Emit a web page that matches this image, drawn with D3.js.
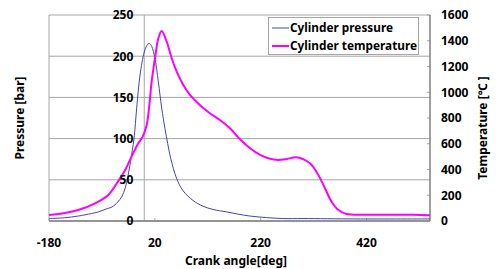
<!DOCTYPE html>
<html>
<head>
<meta charset="utf-8">
<script src="https://cdn.jsdelivr.net/npm/d3@7"></script>
<style>
  body { margin: 0; background: #fff; }
  svg { display: block; font-family: "Noto Sans", "DejaVu Sans", sans-serif; }
</style>
</head>
<body>
<svg id="chart" width="498" height="269"></svg>
<script>
// Crank angle (deg) and cylinder pressure (bar)
const pressureAngle = [-180, -150, -125, -100, -87, -70, -61, -50, -42, -36, -31, -26, -19.4, -14.3, -8, 0, 5, 9.6, 14, 20.3, 26.6, 33, 39.2, 44.3, 50, 61, 73, 92, 111, 130, 156, 200, 262, 300, 400, 540];
const pressureBar   = [3, 4, 6, 9, 11, 15, 17, 23, 30, 40, 54, 72, 100, 137, 177, 205, 213, 215.6, 212, 197, 169, 137, 112, 94, 76, 52, 37, 25, 18, 14, 11, 6, 3, 3, 2.5, 2.5];

// Crank angle (deg) and cylinder temperature (C)
const tempAngle = [-180, -150, -125, -93, -68, -50, -36, -24, -11.3, -3, 4.6, 9.6, 14, 20.3, 26.6, 33, 42.4, 51.8, 61.3, 73.8, 86.4, 105, 124, 143, 162, 181, 200, 219, 236, 253, 270, 288, 313, 329, 341.5, 354, 367, 382.5, 427, 508, 540];
const tempC     = [47, 62, 85, 137, 202, 305, 396, 500, 603, 655, 746, 901, 1082, 1264, 1419, 1476, 1393, 1264, 1160, 1056, 979, 901, 837, 784, 720, 635, 565, 513, 485, 474, 482, 495, 448, 357, 254, 150, 85, 54, 49, 49, 45];

const xTicks = [-180, 20, 220, 420];
const pressureTicks = [0, 50, 100, 150, 200, 250];
const tempTicks = [0, 200, 400, 600, 800, 1000, 1200, 1400, 1600];

const seriesNames = ["Cylinder pressure", "Cylinder temperature"];
const pressureColor = "#4646a6";
const tempColor = "#ff00ff";

const margin = { left: 49, right: 68, top: 15, bottom: 48 };
const W = 498, H = 269;
const svg = d3.select("#chart");

const x = d3.scaleLinear().domain([-180, 540]).range([margin.left, W - margin.right]);
const yP = d3.scaleLinear().domain([0, 250]).range([H - margin.bottom, margin.top]);
const yT = d3.scaleLinear().domain([0, 1600]).range([H - margin.bottom, margin.top]);

const x0 = margin.left, x1 = W - margin.right;
const y0 = H - margin.bottom, y1 = margin.top;

// gridlines
svg.append("g").selectAll("line")
  .data(pressureTicks)
  .join("line")
  .attr("x1", x0).attr("x2", x1)
  .attr("y1", d => yP(d)).attr("y2", d => yP(d))
  .attr("stroke", "#a6a6a6").attr("stroke-width", 1);

// left frame and TDC vertical axis
svg.append("line").attr("x1", x0).attr("x2", x0).attr("y1", y1).attr("y2", y0)
  .attr("stroke", "#a6a6a6");
svg.append("line").attr("x1", x(0)).attr("x2", x(0)).attr("y1", y1).attr("y2", y0)
  .attr("stroke", "#a6a6a6");

// x axis ticks (inside)
svg.append("g").selectAll("line")
  .data(xTicks)
  .join("line")
  .attr("x1", d => x(d)).attr("x2", d => x(d))
  .attr("y1", y0).attr("y2", y0 - 3)
  .attr("stroke", "#b0b0b0");

// right axis ticks (inside)
svg.append("g").selectAll("line")
  .data(tempTicks)
  .join("line")
  .attr("x1", x1 - 3).attr("x2", x1)
  .attr("y1", d => yT(d)).attr("y2", d => yT(d))
  .attr("stroke", "#a6a6a6");

// axis lines
svg.append("line").attr("x1", x0).attr("x2", x1).attr("y1", y0).attr("y2", y0)
  .attr("stroke", "#7f7f7f").attr("stroke-width", 1.5);
svg.append("line").attr("x1", x1).attr("x2", x1).attr("y1", y1).attr("y2", y0)
  .attr("stroke", "#7f7f7f").attr("stroke-width", 1.5);

// curves
const pressureLine = d3.line()
  .x((d, i) => x(pressureAngle[i]))
  .y(d => yP(d))
  .curve(d3.curveCatmullRom.alpha(0.5));
const tempLine = d3.line()
  .x((d, i) => x(tempAngle[i]))
  .y(d => yT(d))
  .curve(d3.curveCatmullRom.alpha(0.5));

svg.append("path").datum(pressureBar)
  .attr("d", pressureLine)
  .attr("fill", "none").attr("stroke", pressureColor).attr("stroke-width", 1);
svg.append("path").datum(tempC)
  .attr("d", tempLine)
  .attr("fill", "none").attr("stroke", tempColor).attr("stroke-width", 2);

// tick labels
const labelStyle = sel => sel.attr("font-size", 12).attr("font-weight", "bold").attr("fill", "#000");

svg.append("g").selectAll("text")
  .data(pressureTicks)
  .join("text")
  .attr("x", x(0) - 11).attr("y", d => yP(d)).attr("dy", "0.36em")
  .attr("text-anchor", "end")
  .text(d => d)
  .call(labelStyle);

svg.append("g").selectAll("text")
  .data(tempTicks)
  .join("text")
  .attr("x", x1 + 11).attr("y", d => yT(d)).attr("dy", "0.36em")
  .attr("text-anchor", "start")
  .text(d => d)
  .call(labelStyle);

svg.append("g").selectAll("text")
  .data(xTicks)
  .join("text")
  .attr("x", d => x(d)).attr("y", 247)
  .attr("text-anchor", "middle")
  .text(d => d)
  .call(labelStyle);

// axis titles
svg.append("text")
  .attr("transform", `translate(24,118) rotate(-90)`)
  .attr("text-anchor", "middle")
  .attr("font-size", 12).attr("font-weight", "bold")
  .text("Pressure [bar]");
svg.append("text")
  .attr("transform", `translate(487,128) rotate(-90)`)
  .attr("text-anchor", "middle")
  .attr("font-size", 12).attr("font-weight", "bold")
  .text("Temperature [\u2103 ]");
svg.append("text")
  .attr("x", 236).attr("y", 265)
  .attr("text-anchor", "middle")
  .attr("font-size", 12).attr("font-weight", "bold")
  .text("Crank angle[deg]");

// legend
const legend = svg.append("g");
legend.append("rect")
  .attr("x", 268.5).attr("y", 17.5).attr("width", 150).attr("height", 37)
  .attr("fill", "#fff").attr("stroke", "#a6a6a6");
const legendColors = [pressureColor, tempColor];
const legendWidths = [1, 2];
seriesNames.forEach((name, i) => {
  const ly = 28 + i * 18;
  legend.append("line")
    .attr("x1", 272).attr("x2", 289).attr("y1", ly).attr("y2", ly)
    .attr("stroke", legendColors[i]).attr("stroke-width", legendWidths[i]);
  legend.append("text")
    .attr("x", 290).attr("y", ly).attr("dy", "0.36em")
    .attr("font-size", 11.8).attr("font-weight", "bold")
    .text(name);
});
</script>
</body>
</html>
